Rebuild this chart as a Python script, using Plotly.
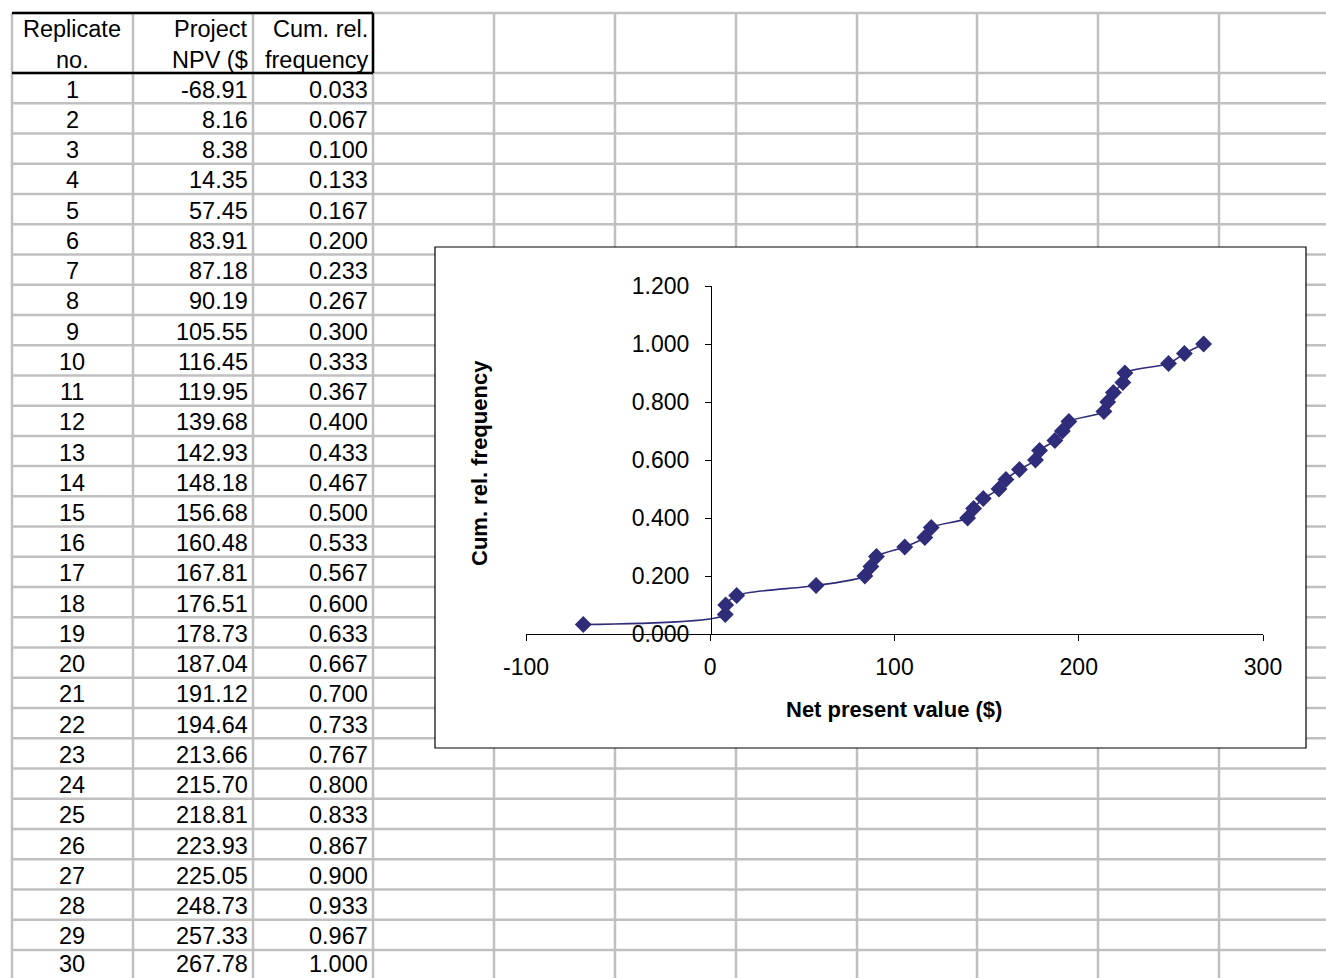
import plotly.graph_objects as go

# ---------------- data ----------------
replicate = list(range(1, 31))
npv = [-68.91, 8.16, 8.38, 14.35, 57.45, 83.91, 87.18, 90.19, 105.55, 116.45,
       119.95, 139.68, 142.93, 148.18, 156.68, 160.48, 167.81, 176.51, 178.73, 187.04,
       191.12, 194.64, 213.66, 215.70, 218.81, 223.93, 225.05, 248.73, 257.33, 267.78]
cum_freq = [0.033, 0.067, 0.100, 0.133, 0.167, 0.200, 0.233, 0.267, 0.300, 0.333,
            0.367, 0.400, 0.433, 0.467, 0.500, 0.533, 0.567, 0.600, 0.633, 0.667,
            0.700, 0.733, 0.767, 0.800, 0.833, 0.867, 0.900, 0.933, 0.967, 1.000]
header_col1 = ["Replicate", "no."]
header_col2 = ["Project", "NPV ($"]
header_col3 = ["Cum. rel.", "frequency"]
x_tickvals = [-100, 0, 100, 200, 300]
x_ticktext = ["-100", "0", "100", "200", "300"]
y_tickvals = [0.0, 0.2, 0.4, 0.6, 0.8, 1.0, 1.2]
x_title = "Net present value ($)"
y_title = "Cum. rel. frequency"

# ---------------- geometry ----------------
W, H = 1326, 978
FONT = "Liberation Sans, Arial, sans-serif"
GRAY = "#C0C0C0"
NAVY = "#2F2C7A"

def px(x):
    return x / W

def py(y):
    return 1 - y / H

col_x = [12, 133, 253, 373, 494, 615, 736, 857, 977, 1098, 1219]
top_y = 13
head_y = 73
row_h = 30.24

shapes = []
def line(x0, y0, x1, y1, color, width):
    shapes.append(dict(type="line", xref="paper", yref="paper",
                       x0=px(x0), y0=py(y0), x1=px(x1), y1=py(y1),
                       line=dict(color=color, width=width), layer="below"))

for cx in col_x:
    line(cx, top_y, cx, H, GRAY, 2.5)
line(col_x[0], top_y, W, top_y, GRAY, 2.5)
for k in range(0, 31):
    yk = head_y + row_h * k
    if yk < H:
        line(col_x[0], yk, W, yk, GRAY, 2.5)
# black borders of table header
line(12, top_y, 373, top_y, "black", 2.5)
line(12, head_y, 373, head_y, "black", 2.5)
line(373, top_y, 373, head_y, "black", 2.5)

# chart area box
shapes.append(dict(type="rect", xref="paper", yref="paper",
                   x0=px(435), y0=py(748), x1=px(1306), y1=py(247),
                   fillcolor="white", line=dict(color="black", width=1.2),
                   layer="below"))

annotations = []
TS = 23.5
def txt(x, y, s, anchor, size=TS, bold=False, angle=0):
    annotations.append(dict(xref="paper", yref="paper", x=px(x), y=py(y),
                            text=("<b>%s</b>" % s) if bold else s,
                            showarrow=False, xanchor=anchor, yanchor="middle",
                            textangle=angle,
                            font=dict(family=FONT, size=size, color="black")))

# header
for j, (a, b, c) in enumerate(zip(header_col1, header_col2, header_col3)):
    yy = 29 + 31 * j
    txt(72, yy, a, "center")
    txt(250, yy, b, "right")
    txt(370, yy, c, "right")

for i, (r, v, f) in enumerate(zip(replicate, npv, cum_freq)):
    yy = min(head_y + row_h * (i + 0.5) + 1.5, H - 14)
    txt(72, yy, str(r), "center")
    txt(250, yy, "%.2f" % v, "right")
    txt(370, yy, "%.3f" % f, "right")

# axis titles
txt(894, 709, x_title, "center", size=22, bold=True)
txt(479, 463, y_title, "center", size=22, bold=True, angle=-90)

fig = go.Figure()
fig.add_trace(go.Scatter(
    x=npv, y=cum_freq, mode="lines+markers",
    line=dict(color=NAVY, width=1.6, shape="spline", smoothing=0.8),
    marker=dict(symbol="diamond", size=13, color=NAVY),
    showlegend=False, hoverinfo="x+y"))

x_dom = [px(526), px(1263)]
y_dom = [py(634), py(286)]

fig.update_layout(
    width=W, height=H,
    margin=dict(l=0, r=0, t=0, b=0, pad=0, autoexpand=False),
    paper_bgcolor="white", plot_bgcolor="rgba(0,0,0,0)",
    shapes=shapes, annotations=annotations,
    font=dict(family=FONT, color="black"),
    xaxis=dict(domain=x_dom, range=[-100, 300], tickvals=x_tickvals, ticktext=x_ticktext,
               showgrid=False, zeroline=False, showline=True, linecolor="black",
               linewidth=1.2, ticks="outside", ticklen=6, tickcolor="black",
               tickwidth=1.2, tickfont=dict(family=FONT, size=23, color="black"),
               ticklabelstandoff=6, automargin=False),
    yaxis=dict(domain=y_dom, range=[0, 1.2], tickvals=y_tickvals,
               tickformat=".3f", anchor="free", position=px(711),
               showgrid=False, zeroline=False, showline=True, linecolor="black",
               linewidth=1.2, ticks="outside", ticklen=6, tickcolor="black",
               tickwidth=1.2, tickfont=dict(family=FONT, size=23, color="black"),
               ticklabelstandoff=11, automargin=False),
)

fig.write_html(
    "out.html",
    config={"displayModeBar": False},
    post_script="document.body.style.margin='0';document.body.style.overflow='hidden';",
)
